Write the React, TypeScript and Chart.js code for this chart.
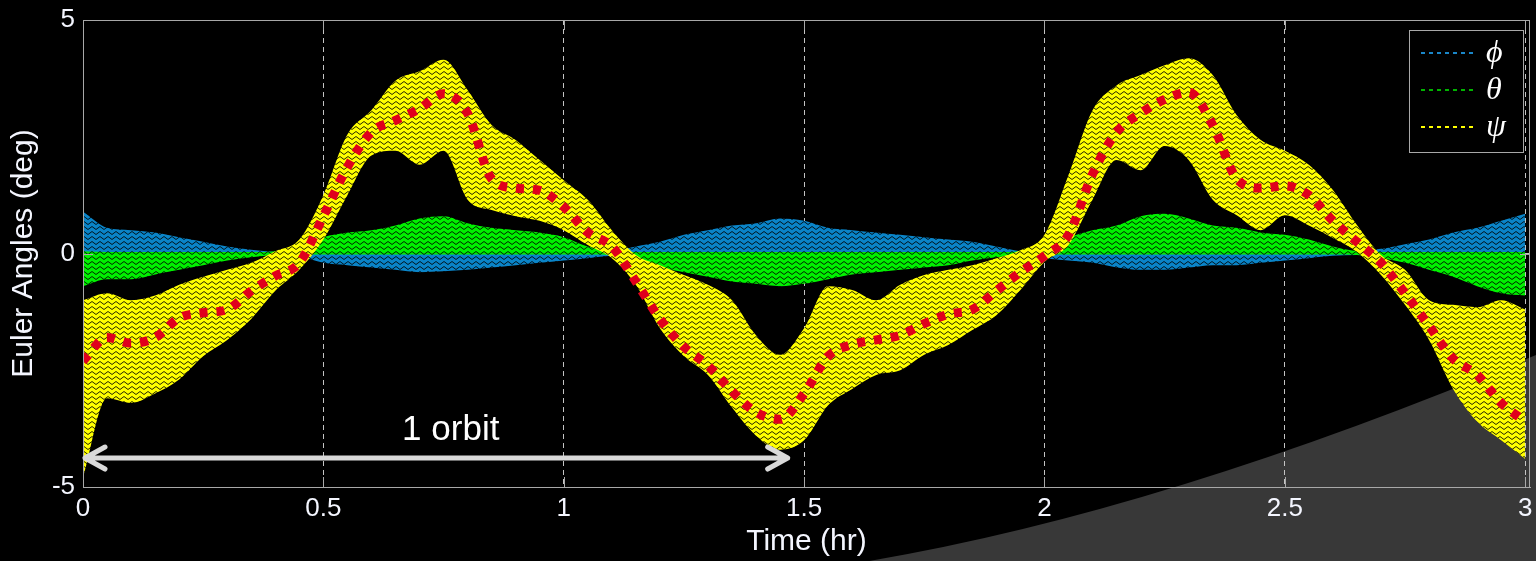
import React, { useEffect, useRef } from 'react';
import { Chart, registerables } from 'chart.js';

Chart.register(...registerables);

// ---- data ----
const TIME_HR = [
  0, 0.05, 0.1, 0.15, 0.2, 0.25, 0.3, 0.35, 0.4, 0.45,
  0.5, 0.55, 0.6, 0.65, 0.7, 0.75, 0.8, 0.85, 0.9, 0.95,
  1.0, 1.05, 1.1, 1.15, 1.2, 1.25, 1.3, 1.35, 1.4, 1.45,
  1.5, 1.55, 1.6, 1.65, 1.7, 1.75, 1.8, 1.85, 1.9, 1.95,
  2.0, 2.05, 2.1, 2.15, 2.2, 2.25, 2.3, 2.35, 2.4, 2.45,
  2.5, 2.55, 2.6, 2.65, 2.7, 2.75, 2.8, 2.85, 2.9, 2.95,
  3.0,
];

// psi mean (red dotted)
const PSI_MEAN = [
  -2.3, -1.8, -1.92, -1.8, -1.38, -1.27, -1.2, -0.8, -0.48, -0.2,
  0.8, 1.85, 2.6, 2.85, 3.1, 3.42, 3.0, 1.6, 1.4, 1.35,
  1.0, 0.45, 0.15, -0.6, -1.4, -2.0, -2.4, -2.95, -3.4, -3.55,
  -3.0, -2.2, -1.95, -1.85, -1.75, -1.5, -1.3, -1.2, -0.8, -0.4,
  -0.05, 0.4, 1.7, 2.6, 3.0, 3.3, 3.45, 2.75, 1.6, 1.4,
  1.45, 1.25, 0.7, 0.25, -0.2, -0.85, -1.55, -2.25, -2.6, -3.2,
  -3.6,
];

// psi (yellow) envelope
const PSI_UPPER = [
  -1.0, -0.85, -1.0, -0.9, -0.67, -0.5, -0.35, -0.2, 0.05, 0.3,
  1.25, 2.55, 3.07, 3.7, 3.9, 4.15, 3.5, 2.75, 2.43, 2.0,
  1.57, 1.15, 0.5, -0.03, -0.25, -0.46, -0.67, -1.0, -1.75, -2.17,
  -1.6, -0.7, -0.78, -1.0, -0.67, -0.46, -0.35, -0.25, -0.1, 0.07,
  0.4, 1.68, 3.07, 3.6, 3.82, 4.03, 4.18, 3.82, 2.96, 2.43,
  2.2, 1.9, 1.36, 0.61, -0.03, -0.35, -1.0, -1.1, -1.15, -1.0,
  -1.2,
];
const PSI_LOWER = [
  -4.8, -3.1, -3.2, -3.0, -2.7, -2.2, -1.85, -1.4, -0.8, -0.35,
  0.3, 1.25, 2.1, 2.2, 1.9, 2.2, 1.15, 0.93, 0.8, 0.7,
  0.5, 0.18, -0.1, -0.67, -1.6, -2.2, -2.6, -3.3, -3.9, -4.2,
  -4.0, -3.25, -2.9, -2.6, -2.5, -2.17, -1.96, -1.64, -1.32, -0.78,
  -0.18, 0.18, 1.15, 2.0, 1.78, 2.3, 2.0, 1.15, 0.82, 0.5,
  0.82, 0.6, 0.33, 0.03, -0.46, -1.1, -1.85, -2.9, -3.6, -4.0,
  -4.4,
];

// phi (blue) envelope
const PHI_UPPER = [
  0.9, 0.55, 0.5, 0.45, 0.35, 0.25, 0.15, 0.08, 0.03, 0.02,
  0.02, 0.03, 0.03, 0.03, 0.03, 0.03, 0.03, 0.03, 0.03, 0.03,
  0.03, 0.03, 0.05, 0.15, 0.25, 0.4, 0.5, 0.6, 0.65, 0.75,
  0.7, 0.55, 0.5, 0.45, 0.4, 0.35, 0.3, 0.25, 0.15, 0.05,
  0.03, 0.03, 0.03, 0.03, 0.03, 0.03, 0.03, 0.03, 0.03, 0.03,
  0.03, 0.03, 0.03, 0.05, 0.1, 0.2, 0.3, 0.45, 0.55, 0.7,
  0.85,
];
const PHI_LOWER = [
  -0.1, -0.05, -0.05, -0.05, -0.03, -0.02, -0.02, -0.02, -0.03, -0.06,
  -0.2, -0.25, -0.3, -0.35, -0.4, -0.38, -0.35, -0.3, -0.25, -0.2,
  -0.15, -0.1, -0.05, -0.03, -0.03, -0.05, -0.05, -0.05, -0.05, -0.05,
  -0.05, -0.05, -0.05, -0.05, -0.03, -0.03, -0.03, -0.03, -0.03, -0.05,
  -0.1, -0.15, -0.2, -0.3, -0.35, -0.35, -0.3, -0.25, -0.25, -0.2,
  -0.15, -0.1, -0.05, -0.03, -0.03, -0.03, -0.03, -0.03, -0.03, -0.03,
  -0.03,
];

// theta (green) envelope
const THETA_UPPER = [
  0.05, 0.03, 0.03, 0.03, 0.03, 0.03, 0.03, 0.03, 0.05, 0.15,
  0.35, 0.45, 0.5, 0.6, 0.75, 0.8, 0.65, 0.55, 0.5, 0.45,
  0.35, 0.15, 0.05, 0.03, 0.03, 0.03, 0.03, 0.03, 0.03, 0.03,
  0.03, 0.03, 0.03, 0.03, 0.03, 0.03, 0.03, 0.03, 0.03, 0.05,
  0.15, 0.35, 0.5, 0.6, 0.8, 0.85, 0.75, 0.6, 0.55, 0.45,
  0.4, 0.3, 0.15, 0.05, 0.03, 0.03, 0.03, 0.03, 0.03, 0.03,
  0.03,
];
const THETA_LOWER = [
  -0.7, -0.55, -0.55, -0.45, -0.35, -0.25, -0.15, -0.08, -0.03, -0.02,
  -0.02, -0.02, -0.02, -0.02, -0.02, -0.02, -0.02, -0.02, -0.02, -0.02,
  -0.02, -0.02, -0.03, -0.15, -0.3, -0.4, -0.5, -0.6, -0.65, -0.7,
  -0.65, -0.55, -0.45, -0.4, -0.35, -0.3, -0.25, -0.15, -0.08, -0.03,
  -0.02, -0.02, -0.02, -0.02, -0.02, -0.02, -0.02, -0.02, -0.02, -0.02,
  -0.02, -0.02, -0.02, -0.03, -0.1, -0.2, -0.35, -0.5, -0.7, -0.85,
  -0.9,
];

const X_TICKS = [0, 0.5, 1, 1.5, 2, 2.5, 3];
const Y_TICKS = [-5, 0, 5];
const X_MIN = 0;
const X_MAX = 3.01;
const Y_MIN = -5;
const Y_MAX = 5;

const X_TITLE = 'Time (hr)';
const Y_TITLE = 'Euler Angles (deg)';

const LEGEND_LABELS = ['\u03D5', '\u03B8', '\u03C8'];
const LEGEND_COLORS = ['#1a86c8', '#00b400', '#ffff00'];

const ORBIT_LABEL = '1 orbit';
const ORBIT_START = 0;
const ORBIT_END = 1.47;
const ORBIT_LEVEL = -4.38;
const ORBIT_LABEL_T = 0.765;
const ORBIT_LABEL_LEVEL = -3.78;

const SANS = '"Liberation Sans", Arial, "Noto Sans", sans-serif';
const TEXT = '#f4f6ff';
const FRAME = '#a8a8a8';

function hatch(color: string): CanvasPattern | string {
  const c = document.createElement('canvas');
  c.width = 8;
  c.height = 5;
  const g = c.getContext('2d');
  if (!g) return color;
  g.fillStyle = color;
  g.fillRect(0, 0, 8, 5);
  g.strokeStyle = 'rgba(0,0,0,0.85)';
  g.lineWidth = 1;
  g.beginPath();
  g.moveTo(0, 4.5);
  g.lineTo(4, 1.5);
  g.lineTo(8, 4.5);
  g.stroke();
  return g.createPattern(c, 'repeat') || color;
}

const backgroundPlugin = {
  id: 'slideBackground',
  beforeDraw(chart: any) {
    const { ctx, width, height } = chart;
    ctx.save();
    ctx.fillStyle = '#000';
    ctx.fillRect(0, 0, width, height);
    // decorative slide swoosh in the lower right corner
    ctx.fillStyle = '#383838';
    ctx.beginPath();
    ctx.moveTo(width * 0.566, height);
    ctx.quadraticCurveTo(width * 0.758, height * 0.911, width, height * 0.633);
    ctx.lineTo(width, height);
    ctx.closePath();
    ctx.fill();
    ctx.restore();
  },
};

const decorPlugin = {
  id: 'decor',
  afterDraw(chart: any) {
    const { ctx, chartArea: a, scales } = chart;
    const xs = scales.x;
    const ys = scales.y;
    ctx.save();
    // frame
    ctx.strokeStyle = FRAME;
    ctx.lineWidth = 1;
    ctx.setLineDash([]);
    ctx.strokeRect(a.left + 0.5, a.top + 0.5, a.right - a.left - 1, a.bottom - a.top);
    // inward tick marks
    ctx.beginPath();
    X_TICKS.forEach((v) => {
      const px = Math.round(xs.getPixelForValue(v)) + 0.5;
      ctx.moveTo(px, a.bottom);
      ctx.lineTo(px, a.bottom - 10);
      ctx.moveTo(px, a.top);
      ctx.lineTo(px, a.top + 10);
    });
    Y_TICKS.forEach((v) => {
      const py = Math.round(ys.getPixelForValue(v)) + 0.5;
      ctx.moveTo(a.left, py);
      ctx.lineTo(a.left + 10, py);
      ctx.moveTo(a.right, py);
      ctx.lineTo(a.right - 10, py);
    });
    ctx.stroke();

    // legend box
    const bw = 114;
    const bh = 122;
    const bx = a.right - 7 - bw;
    const by = a.top + 10;
    ctx.fillStyle = '#000';
    ctx.fillRect(bx, by, bw, bh);
    ctx.strokeStyle = FRAME;
    ctx.strokeRect(bx + 0.5, by + 0.5, bw, bh);
    LEGEND_LABELS.forEach((lab, i) => {
      const ly = by + 23 + i * 37;
      ctx.strokeStyle = LEGEND_COLORS[i];
      ctx.lineWidth = 2;
      ctx.setLineDash([4, 4]);
      ctx.beginPath();
      ctx.moveTo(bx + 12, ly);
      ctx.lineTo(bx + 68, ly);
      ctx.stroke();
      ctx.setLineDash([]);
      ctx.fillStyle = '#ffffff';
      ctx.font = 'italic 32px "Liberation Serif", "DejaVu Serif", serif';
      ctx.textAlign = 'left';
      ctx.textBaseline = 'middle';
      ctx.fillText(lab, bx + 77, ly + 1);
    });

    // "1 orbit" double arrow
    const x0 = xs.getPixelForValue(ORBIT_START);
    const x1 = xs.getPixelForValue(ORBIT_END);
    const yA = ys.getPixelForValue(ORBIT_LEVEL);
    ctx.strokeStyle = '#d9d9d9';
    ctx.lineWidth = 5;
    ctx.lineCap = 'round';
    ctx.lineJoin = 'round';
    ctx.beginPath();
    ctx.moveTo(x0 + 2, yA);
    ctx.lineTo(x1 - 2, yA);
    ctx.moveTo(x0 + 22, yA - 11);
    ctx.lineTo(x0 + 2, yA);
    ctx.lineTo(x0 + 22, yA + 11);
    ctx.moveTo(x1 - 22, yA - 11);
    ctx.lineTo(x1 - 2, yA);
    ctx.lineTo(x1 - 22, yA + 11);
    ctx.stroke();
    ctx.fillStyle = '#ffffff';
    ctx.font = '35px ' + SANS;
    ctx.textAlign = 'center';
    ctx.textBaseline = 'middle';
    ctx.fillText(ORBIT_LABEL, xs.getPixelForValue(ORBIT_LABEL_T), ys.getPixelForValue(ORBIT_LABEL_LEVEL));
    ctx.restore();
  },
};

export default function App() {
  const ref = useRef<HTMLCanvasElement>(null);
  useEffect(() => {
    document.body.style.margin = '0';
    document.body.style.background = '#000';
    const canvas = ref.current;
    if (!canvas) return;
    const pts = (arr: number[]) => TIME_HR.map((t, i) => ({ x: t, y: arr[i] }));
    const band = (label: string, lower: number[], upper: number[], color: string, order: number) => [
      {
        label: label + ' lower',
        data: pts(lower),
        borderColor: 'transparent',
        borderWidth: 0,
        pointRadius: 0,
        fill: false,
        order,
      },
      {
        label: label,
        data: pts(upper),
        borderColor: 'transparent',
        borderWidth: 0,
        pointRadius: 0,
        backgroundColor: hatch(color),
        fill: '-1',
        order,
      },
    ];
    const chart = new Chart(canvas, {
      type: 'line',
      data: {
        datasets: [
          ...band('phi', PHI_LOWER, PHI_UPPER, '#0a84c8', 3),
          ...band('theta', THETA_LOWER, THETA_UPPER, '#00f000', 2),
          ...band('psi', PSI_LOWER, PSI_UPPER, '#ffff00', 1),
          {
            label: 'psi mean',
            data: pts(PSI_MEAN),
            borderColor: '#e0001c',
            borderWidth: 9,
            borderDash: [8, 9],
            borderCapStyle: 'butt',
            pointRadius: 0,
            fill: false,
            order: 0,
          },
        ] as any,
      },
      options: {
        responsive: false,
        animation: false,
        devicePixelRatio: 1,
        events: [],
        elements: { line: { cubicInterpolationMode: 'monotone' } },
        layout: { padding: { top: 20, right: 6, left: 0, bottom: 0 } },
        plugins: { legend: { display: false }, tooltip: { enabled: false }, title: { display: false } },
        scales: {
          x: {
            type: 'linear',
            min: X_MIN,
            max: X_MAX,
            afterBuildTicks: (s: any) => { s.ticks = X_TICKS.map((v) => ({ value: v })); },
            afterFit: (s: any) => { s.height = 74; s.paddingLeft = 0; s.paddingRight = 0; },
            ticks: {
              color: TEXT,
              font: { family: SANS, size: 26 },
              padding: 6,
              maxRotation: 0,
              autoSkip: false,
              callback: (v: any) => String(v),
            },
            grid: { color: '#c4c4c4', lineWidth: 1, drawTicks: false },
            border: { display: true, color: FRAME, dash: [5, 4] },
            title: {
              display: true,
              text: X_TITLE,
              color: TEXT,
              font: { family: SANS, size: 30 },
              padding: { top: 0, bottom: 1 },
            },
          },
          y: {
            type: 'linear',
            min: Y_MIN,
            max: Y_MAX,
            afterBuildTicks: (s: any) => { s.ticks = Y_TICKS.map((v) => ({ value: v })); },
            afterFit: (s: any) => { s.width = 83; s.paddingTop = 0; s.paddingBottom = 0; },
            ticks: {
              color: TEXT,
              font: { family: SANS, size: 26 },
              padding: 8,
              callback: (v: any) => String(v),
            },
            grid: { color: '#c4c4c4', lineWidth: 1, drawTicks: false },
            border: { display: true, color: FRAME, dash: [5, 4] },
            title: {
              display: true,
              text: Y_TITLE,
              color: TEXT,
              font: { family: SANS, size: 30 },
              padding: { top: 6, bottom: 0 },
            },
          },
        },
      } as any,
      plugins: [backgroundPlugin, decorPlugin],
    });
    return () => chart.destroy();
  }, []);
  return (
    <div style={{ width: 1536, height: 561, background: '#000' }}>
      <canvas ref={ref} width={1536} height={561} style={{ display: 'block' }} />
    </div>
  );
}
